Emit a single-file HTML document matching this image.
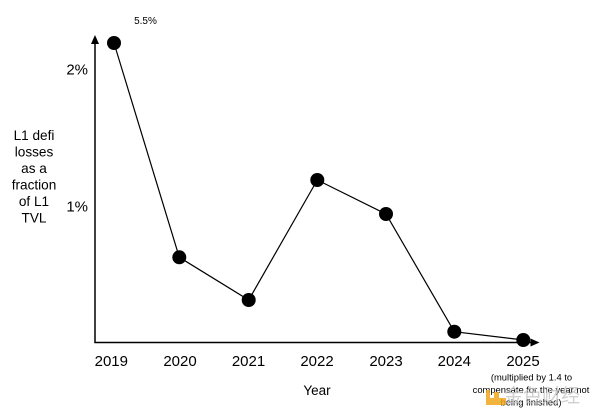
<!DOCTYPE html>
<html>
<head>
<meta charset="utf-8">
<style>
html,body{margin:0;padding:0;background:#fff;}
svg{display:block;}
text{font-family:"Liberation Sans","Noto Sans CJK SC",sans-serif;fill:#000;}
</style>
</head>
<body>
<svg width="600" height="417" viewBox="0 0 600 417" xmlns="http://www.w3.org/2000/svg">
<rect width="600" height="417" fill="#fff"/>
<!-- axes -->
<line x1="95" y1="342.5" x2="95" y2="40" stroke="#000" stroke-width="1.5"/>
<polygon points="95,35 91,44 99,44" fill="#000"/>
<line x1="94.3" y1="342.5" x2="534" y2="342.5" stroke="#000" stroke-width="1.5"/>
<polygon points="539.5,342.5 530.5,338.5 530.5,346.5" fill="#000"/>
<!-- series -->
<polyline points="114,43 179.3,257.3 248.7,300 317.3,180 386,214 454.3,331.7 523.3,340" fill="none" stroke="#000" stroke-width="1.2"/>
<g fill="#000">
<circle cx="114" cy="43" r="7"/>
<circle cx="179.3" cy="257.3" r="7"/>
<circle cx="248.7" cy="300" r="7"/>
<circle cx="317.3" cy="180" r="7"/>
<circle cx="386" cy="214" r="7"/>
<circle cx="454.3" cy="331.7" r="7"/>
<circle cx="523.3" cy="340" r="7"/>
</g>
<!-- labels -->
<text x="145.5" y="24" font-size="10" text-anchor="middle">5.5%</text>
<text x="88" y="74.5" font-size="15" text-anchor="end">2%</text>
<text x="88" y="211.5" font-size="15" text-anchor="end">1%</text>
<g font-size="13.6" text-anchor="middle">
<text x="34" y="140">L1 defi</text>
<text x="34" y="156.5">losses</text>
<text x="34" y="173">as a</text>
<text x="34" y="189.5">fraction</text>
<text x="34" y="206">of L1</text>
<text x="34" y="222.5">TVL</text>
</g>
<g font-size="15" text-anchor="middle">
<text x="111.3" y="366">2019</text>
<text x="180" y="366">2020</text>
<text x="248.5" y="366">2021</text>
<text x="317" y="366">2022</text>
<text x="386" y="366">2023</text>
<text x="454.3" y="366">2024</text>
<text x="523" y="366">2025</text>
</g>
<text x="317" y="395" font-size="13.5" text-anchor="middle">Year</text>
<g font-size="9.4" text-anchor="middle">
<text x="531.5" y="380.5">(multiplied by 1.4 to</text>
<text x="531" y="393">compensate for the year not</text>
<text x="531" y="405.5">being finished)</text>
</g>
<!-- watermark -->
<g opacity="0.85">
<rect x="486" y="390" width="4" height="12" fill="#f2a81d"/>
<rect x="486" y="398" width="20" height="7" fill="#f2a81d"/>
<rect x="494" y="392" width="5" height="6" fill="#f2a81d"/>
</g>
<text x="504" y="402" font-size="19" opacity="0.8" style="fill:#c4c4c4" font-family="Noto Sans CJK SC, sans-serif">金色财经</text>
</svg>
</body>
</html>
